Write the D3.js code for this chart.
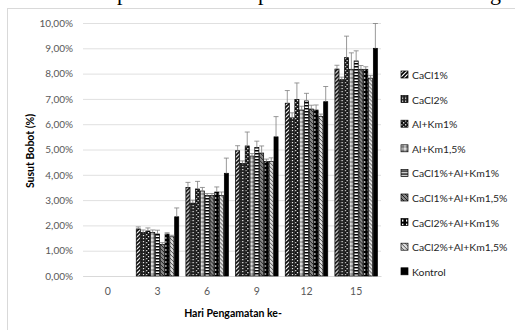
<!DOCTYPE html>
<html>
<head>
<meta charset="utf-8">
<script src="https://cdn.jsdelivr.net/npm/d3@7"></script>
<style>
  body { margin: 0; background: #fff; }
  svg { display: block; font-family: Lato, "Open Sans", sans-serif; }
</style>
</head>
<body>
<div id="chart"></div>
<script>
// data
const days = ['0', '3', '6', '9', '12', '15'];
const seriesNames = ['CaCl1%', 'CaCl2%', 'Al+Km1%', 'Al+Km1,5%', 'CaCl1%+Al+Km1%',
  'CaCl1%+Al+Km1,5%', 'CaCl2%+Al+Km1%', 'CaCl2%+Al+Km1,5%', 'Kontrol'];
// values in %, one array per day (series order as above)
const day0 = [0, 0, 0, 0, 0, 0, 0, 0, 0];
const day3 = [1.86, 1.72, 1.78, 1.72, 1.66, 1.24, 1.66, 1.55, 2.34];
const day6 = [3.5, 2.88, 3.44, 3.36, 3.18, 3.18, 3.32, 3.18, 4.06];
const day9 = [4.95, 4.45, 5.14, 4.74, 5.08, 4.86, 4.52, 4.52, 5.5];
const day12 = [6.83, 6.25, 6.98, 6.56, 6.92, 6.6, 6.56, 6.3, 6.89];
const day15 = [8.18, 7.76, 8.63, 8.17, 8.5, 8.17, 8.17, 7.82, 9.0];
const err0 = [0, 0, 0, 0, 0, 0, 0, 0, 0];
const err3 = [0.08, 0.1, 0.12, 0.1, 0.15, 0.08, 0.05, 0.06, 0.35];
const err6 = [0.2, 0.12, 0.3, 0.14, 0.08, 0.08, 0.2, 0.14, 0.6];
const err9 = [0.2, 0.1, 0.55, 0.1, 0.25, 0.28, 0.1, 0.15, 0.8];
const err12 = [0.5, 0.2, 0.65, 0.15, 0.3, 0.15, 0.2, 0.1, 0.6];
const err15 = [0.15, 0.1, 0.85, 0.65, 0.4, 0.15, 0.1, 0.1, 0.98];
const yTicks = [0, 1, 2, 3, 4, 5, 6, 7, 8, 9, 10];

const values = [day0, day3, day6, day9, day12, day15];
const errors = [err0, err3, err6, err9, err12, err15];

const W = 515, H = 330;
const plot = {left: 83, right: 381, top: 23, bottom: 276};

const svg = d3.select('#chart').append('svg')
  .attr('width', W)
  .attr('height', H);

// patterns for the bars (black & white fills like the original)
const defs = svg.append('defs');
function pat(id, size, draw) {
  const p = defs.append('pattern')
    .attr('id', id)
    .attr('patternUnits', 'userSpaceOnUse')
    .attr('width', size).attr('height', size);
  draw(p);
}
pat('p0', 4, (p) => {
  p.append('rect').attr('width', 4).attr('height', 4).attr('fill', '#fff');
  p.append('path').attr('d', 'M-1,1 L1,-1 M0,4 L4,0 M3,5 L5,3').attr('stroke', '#000').attr('stroke-width', 1.6);
});
pat('p1', 3, (p) => {
  p.append('rect').attr('width', 3).attr('height', 3).attr('fill', '#222');
  p.append('rect').attr('x', 1).attr('y', 1).attr('width', 1.2).attr('height', 1.2).attr('fill', '#fff');
});
pat('p2', 4, (p) => {
  p.append('rect').attr('width', 4).attr('height', 4).attr('fill', '#111');
  p.append('rect').attr('x', 0).attr('y', 0).attr('width', 1.3).attr('height', 1.3).attr('fill', '#fff');
  p.append('rect').attr('x', 2).attr('y', 2).attr('width', 1.3).attr('height', 1.3).attr('fill', '#fff');
});
pat('p3', 4, (p) => {
  p.append('rect').attr('width', 4).attr('height', 4).attr('fill', '#fff');
  p.append('rect').attr('x', 1).attr('y', 1).attr('width', 2).attr('height', 2).attr('fill', 'none').attr('stroke', '#333').attr('stroke-width', 0.8);
});
pat('p4', 3, (p) => {
  p.append('rect').attr('width', 3).attr('height', 3).attr('fill', '#fff');
  p.append('rect').attr('width', 3).attr('height', 1.5).attr('fill', '#000');
});
pat('p5', 4, (p) => {
  p.append('rect').attr('width', 4).attr('height', 4).attr('fill', '#888');
  p.append('path').attr('d', 'M0,0 L4,4').attr('stroke', '#222').attr('stroke-width', 1);
});
pat('p6', 4, (p) => {
  p.append('rect').attr('width', 4).attr('height', 4).attr('fill', '#000');
  p.append('rect').attr('x', 1).attr('y', 1).attr('width', 1.4).attr('height', 2).attr('fill', '#fff');
});
pat('p7', 4, (p) => {
  p.append('rect').attr('width', 4).attr('height', 4).attr('fill', '#ddd');
  p.append('path').attr('d', 'M-1,3 L1,5 M0,0 L4,4 M3,-1 L5,1').attr('stroke', '#444').attr('stroke-width', 0.9);
});
pat('p8', 4, (p) => {
  p.append('rect').attr('width', 4).attr('height', 4).attr('fill', '#000');
});

// clipped caption of the document above the chart
const cap = svg.append('g')
  .style('font-family', '"Liberation Serif", "DejaVu Serif", serif')
  .style('font-size', '22px')
  .attr('fill', '#000');
[['p', 117], ['p', 258], ['g', 490]].forEach(([t, x]) => {
  cap.append('text').attr('x', x).attr('y', 0).text(t);
});

// chart border
svg.append('rect')
  .attr('x', 7.5).attr('y', 8.5)
  .attr('width', W).attr('height', H)
  .attr('fill', 'none')
  .attr('stroke', '#d9d9d9');

const x0 = d3.scaleBand()
  .domain(days)
  .range([plot.left, plot.right])
  .paddingInner(0.13)
  .paddingOuter(0.065);

const x1 = d3.scaleBand()
  .domain(d3.range(seriesNames.length))
  .range([0, x0.bandwidth()]);

const y = d3.scaleLinear()
  .domain([0, 10])
  .range([plot.bottom, plot.top]);

// gridlines + y labels
const yAxis = svg.append('g')
  .attr('transform', 'translate(' + plot.left + ',0)')
  .call(d3.axisLeft(y).tickValues(yTicks)
    .tickSize(-(plot.right - plot.left))
    .tickPadding(10)
    .tickFormat((d) => d.toFixed(2).replace('.', ',') + '%'));
yAxis.select('.domain').remove();
yAxis.selectAll('line').attr('stroke', '#e0e0e0');
yAxis.selectAll('text')
  .attr('fill', '#595959')
  .style('font-size', '10px')
  .style('font-family', 'Lato, sans-serif');

// x labels
const xAxis = svg.append('g')
  .attr('transform', 'translate(0,' + plot.bottom + ')')
  .call(d3.axisBottom(x0).tickSize(0).tickPadding(12));
xAxis.select('.domain').attr('stroke', '#d9d9d9');
xAxis.selectAll('text')
  .attr('fill', '#595959')
  .style('font-size', '10.5px')
  .style('font-family', 'Lato, sans-serif');

// bars
const groups = svg.append('g').selectAll('g')
  .data(days)
  .enter().append('g')
  .attr('transform', (d) => 'translate(' + x0(d) + ',0)');

groups.selectAll('rect')
  .data((d, i) => values[i].map((v, j) => ({v: v, e: errors[i][j], s: j})))
  .enter().append('rect')
  .attr('x', (d) => x1(d.s) + 0.35)
  .attr('y', (d) => y(d.v))
  .attr('width', x1.bandwidth() - 0.7)
  .attr('height', (d) => y(0) - y(d.v))
  .attr('fill', (d) => 'url(#p' + d.s + ')')
  .attr('stroke', (d) => d.v > 0 ? '#000' : 'none')
  .attr('stroke-width', 0.7);

// error bars (plus direction)
const eb = groups.selectAll('g.err')
  .data((d, i) => values[i].map((v, j) => ({v: v, e: errors[i][j], s: j})).filter((d) => d.v > 0))
  .enter().append('g')
  .attr('class', 'err')
  .attr('stroke', '#7f7f7f')
  .attr('stroke-width', 0.8);
eb.append('line')
  .attr('x1', (d) => x1(d.s) + x1.bandwidth() / 2)
  .attr('x2', (d) => x1(d.s) + x1.bandwidth() / 2)
  .attr('y1', (d) => y(d.v))
  .attr('y2', (d) => y(d.v + d.e));
eb.append('line')
  .attr('x1', (d) => x1(d.s) + x1.bandwidth() / 2 - 2.5)
  .attr('x2', (d) => x1(d.s) + x1.bandwidth() / 2 + 2.5)
  .attr('y1', (d) => y(d.v + d.e))
  .attr('y2', (d) => y(d.v + d.e));

// axis titles
svg.append('text')
  .attr('transform', 'translate(34,151) rotate(-90)')
  .attr('text-anchor', 'middle')
  .style('font-size', '10.5px')
  .style('font-weight', 'bold')
  .attr('fill', '#000')
  .text('Susut Bobot (%)');

svg.append('text')
  .attr('x', 233)
  .attr('y', 317)
  .attr('text-anchor', 'middle')
  .style('font-size', '10.5px')
  .style('font-weight', 'bold')
  .attr('fill', '#000')
  .text('Hari Pengamatan ke-');

// legend
const legend = svg.append('g').selectAll('g')
  .data(seriesNames)
  .enter().append('g')
  .attr('transform', (d, i) => 'translate(401,' + (75 + i * 24.6) + ')');
legend.append('rect')
  .attr('x', 0).attr('y', -4)
  .attr('width', 7).attr('height', 7)
  .attr('fill', (d, i) => 'url(#p' + i + ')')
  .attr('stroke', '#000')
  .attr('stroke-width', 0.7);
legend.append('text')
  .attr('x', 11)
  .attr('y', 4)
  .style('font-size', '10.4px')
  .attr('fill', '#262626')
  .text((d) => d);
</script>
</body>
</html>
